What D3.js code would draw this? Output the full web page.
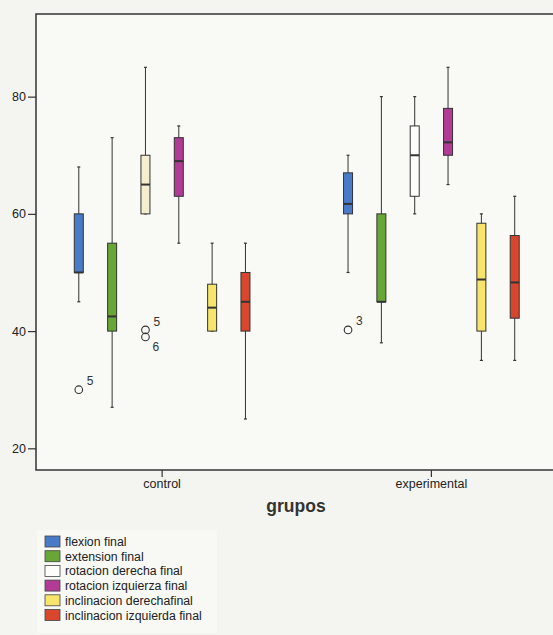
<!DOCTYPE html>
<html>
<head>
<meta charset="utf-8">
<script src="https://cdn.jsdelivr.net/npm/d3@7"></script>
<style>
  body { margin: 0; background: #f4f5f0; }
  svg { display: block; font-family: "Liberation Sans", Arial, sans-serif; }
</style>
</head>
<body>
<div id="chart"></div>
<script>
// grupos y variables
const groups = ['control', 'experimental'];
const series = ['flexion final', 'extension final', 'rotacion derecha final',
  'rotacion izquierza final', 'inclinacion derechafinal', 'inclinacion izquierda final'];
const seriesColors = {
  control: ['#4a7bc9', '#68a737', '#f4eecf', '#b13b95', '#f6e46c', '#d8472d'],
  experimental: ['#4a7bc9', '#68a737', '#fdfdfb', '#b13b95', '#f6e46c', '#d8472d']
};
const legendColors = ['#4a7bc9', '#68a737', '#fdfdfb', '#b13b95', '#f6e46c', '#d8472d'];
const yTicks = [20, 40, 60, 80];

// [min, q1, mediana, q3, max] por serie
const controlStats = [
  [45, 50, 50, 60, 68],
  [27, 40, 42.5, 55, 73],
  [60, 60, 65, 70, 85],
  [55, 63, 69, 73, 75],
  [40, 40, 44, 48, 55],
  [25, 40, 45, 50, 55]
];
const experimentalStats = [
  [50, 60, 61.7, 67, 70],
  [38, 45, 45, 60, 80],
  [60, 63, 70, 75, 80],
  [65, 70, 72.2, 78, 85],
  [35, 40, 48.8, 58.4, 60],
  [35, 42.2, 48.3, 56.3, 63]
];
// atipicos: grupo, serie, valor, etiqueta, desplazamiento de la etiqueta
const outliers = [
  { group: 'control', s: 0, v: 30, label: '5', dx: 8, dy: -5 },
  { group: 'control', s: 2, v: 40.2, label: '5', dx: 8, dy: -4 },
  { group: 'control', s: 2, v: 39, label: '6', dx: 7, dy: 14 },
  { group: 'experimental', s: 0, v: 40.2, label: '3', dx: 8, dy: -5 }
];

const width = 553, height = 635;
const mLeft = 36, mTop = 14, mBottom = 470, mRight = 553;

const svg = d3.select('#chart').append('svg')
  .attr('width', width).attr('height', height);

svg.append('rect')
  .attr('x', mLeft).attr('y', mTop)
  .attr('width', mRight - mLeft).attr('height', mBottom - mTop)
  .attr('fill', '#f9f9f5');

const y = d3.scaleLinear().domain([16.3, 94.1]).range([mBottom, mTop]);
const x = d3.scaleBand().domain(groups).range([27.5, 566]);
const inner = d3.scaleBand().domain(d3.range(series.length)).range([-100, 100]);
const boxW = 9;

// ejes
const yAxis = svg.append('g')
  .attr('transform', `translate(${mLeft},0)`)
  .call(d3.axisLeft(y).tickValues(yTicks).tickSize(8).tickPadding(2));
yAxis.select('.domain').remove();
yAxis.selectAll('line').attr('stroke', '#333').attr('stroke-width', 1.2);
yAxis.selectAll('text').attr('font-size', 12.5).attr('fill', '#222')
  .attr('font-family', '"Liberation Sans", Arial, sans-serif');

const xAxis = svg.append('g')
  .attr('transform', `translate(0,${mBottom})`)
  .call(d3.axisBottom(x).tickSize(7).tickPadding(2));
xAxis.select('.domain').remove();
xAxis.selectAll('line').attr('stroke', '#333').attr('stroke-width', 1.2);
xAxis.selectAll('text').attr('font-size', 12.5).attr('fill', '#222')
  .attr('font-family', '"Liberation Sans", Arial, sans-serif');

// marco
svg.append('path')
  .attr('d', `M${mRight},${mTop}H${mLeft}V${mBottom}H${mRight}`)
  .attr('fill', 'none').attr('stroke', '#333').attr('stroke-width', 1.5);

svg.append('text')
  .attr('x', 296).attr('y', 512)
  .attr('text-anchor', 'middle')
  .attr('font-size', 17.5).attr('font-weight', 'bold').attr('fill', '#333')
  .text('grupos');

// cajas
const allStats = { control: controlStats, experimental: experimentalStats };
groups.forEach(g => {
  const cx0 = x(g) + x.bandwidth() / 2;
  allStats[g].forEach((d, i) => {
    const cx = cx0 + inner(i) + inner.bandwidth() / 2;
    const [mn, q1, med, q3, mx] = d;
    const gg = svg.append('g');
    gg.append('line')
      .attr('x1', cx).attr('x2', cx).attr('y1', y(mx)).attr('y2', y(mn))
      .attr('stroke', '#333').attr('stroke-width', 1);
    [mn, mx].forEach(v => gg.append('line')
      .attr('x1', cx - 1.5).attr('x2', cx + 1.5).attr('y1', y(v)).attr('y2', y(v))
      .attr('stroke', '#333').attr('stroke-width', 1.2));
    gg.append('rect')
      .attr('x', cx - boxW / 2).attr('y', y(q3))
      .attr('width', boxW).attr('height', y(q1) - y(q3))
      .attr('fill', seriesColors[g][i])
      .attr('stroke', '#333').attr('stroke-width', 1);
    gg.append('line')
      .attr('x1', cx - boxW / 2).attr('x2', cx + boxW / 2)
      .attr('y1', y(med)).attr('y2', y(med))
      .attr('stroke', '#333').attr('stroke-width', 2);
  });
});

// atipicos
outliers.forEach(o => {
  const cx = x(o.group) + x.bandwidth() / 2 + inner(o.s) + inner.bandwidth() / 2;
  svg.append('circle')
    .attr('cx', cx).attr('cy', y(o.v)).attr('r', 3.8)
    .attr('fill', 'none').attr('stroke', '#333').attr('stroke-width', 1.1);
  svg.append('text')
    .attr('x', cx + o.dx).attr('y', y(o.v) + o.dy)
    .attr('font-size', 12).attr('fill', '#333')
    .text(o.label);
});

// leyenda
svg.append('rect')
  .attr('x', 37).attr('y', 530).attr('width', 180).attr('height', 103)
  .attr('fill', '#f8f8f5');
const legend = svg.append('g').attr('transform', 'translate(45,536)');
series.forEach((s, i) => {
  const row = legend.append('g').attr('transform', `translate(0,${i * 14.7})`);
  row.append('rect')
    .attr('width', 15).attr('height', 11)
    .attr('fill', legendColors[i]).attr('stroke', '#444').attr('stroke-width', 0.8);
  row.append('text')
    .attr('x', 20).attr('y', 10)
    .attr('font-size', 12.3).attr('fill', '#222')
    .text(s);
});
</script>
</body>
</html>
